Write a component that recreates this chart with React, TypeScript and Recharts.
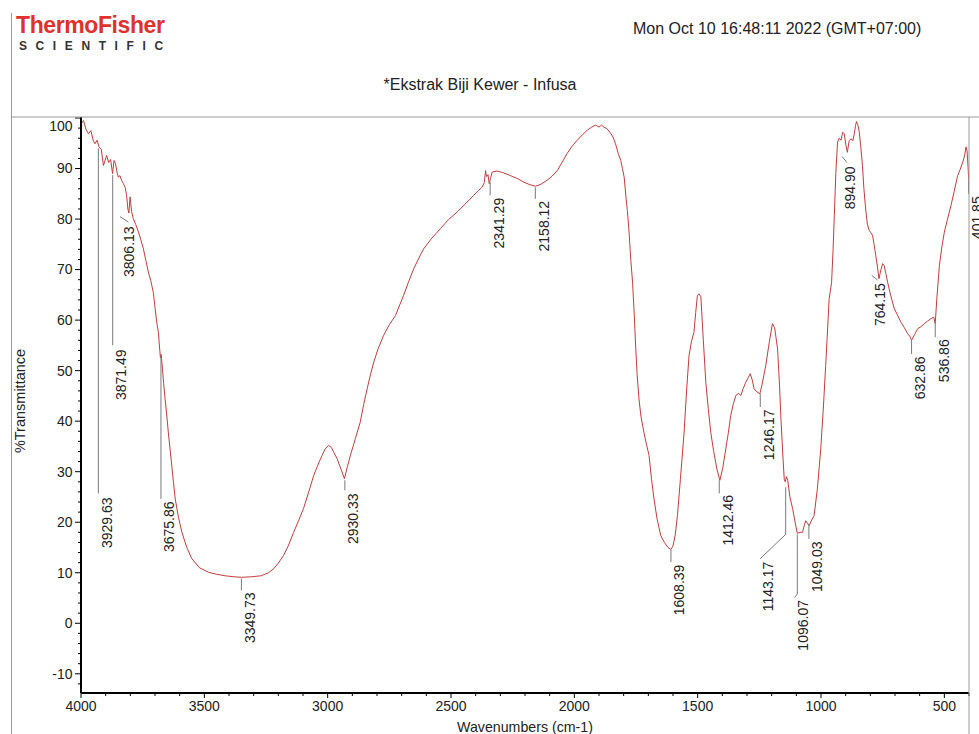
import { LineChart, Line, XAxis, YAxis, ReferenceLine, ReferenceDot } from 'recharts';

// spectrum, high wavenumber first
const WAVENUMBERS = [
  4000, 3990, 3980, 3970, 3960, 3950, 3943, 3935, 3927, 3918, 3909, 3903, 3896, 3888, 3880, 3872, 3866, 3860,
  3855, 3849, 3842, 3835, 3828, 3821, 3815, 3810, 3806, 3801, 3795, 3788, 3778, 3767, 3758, 3747, 3737, 3727,
  3717, 3707, 3700, 3693, 3686, 3683, 3678, 3675, 3670, 3665, 3659, 3652, 3646, 3639, 3632, 3625, 3618, 3605,
  3591, 3571, 3551, 3520, 3483, 3450, 3416, 3380, 3348, 3310, 3270, 3240, 3219, 3200, 3179, 3160, 3138, 3118,
  3098, 3078, 3057, 3040, 3023, 3010, 2996, 2985, 2975, 2962, 2945, 2932, 2920, 2908, 2888, 2868, 2854, 2840,
  2826, 2813, 2795, 2773, 2750, 2725, 2708, 2692, 2672, 2651, 2630, 2611, 2578, 2543, 2510, 2475, 2440, 2408,
  2390, 2374, 2365, 2360, 2356, 2350, 2345, 2340, 2333, 2313, 2290, 2259, 2230, 2205, 2180, 2157, 2135, 2110,
  2090, 2069, 2050, 2029, 2008, 1988, 1967, 1947, 1930, 1914, 1900, 1890, 1880, 1868, 1853, 1843, 1833, 1822,
  1812, 1805, 1798, 1790, 1785, 1778, 1771, 1764, 1757, 1751, 1745, 1738, 1730, 1718, 1708, 1697, 1687, 1677,
  1665, 1650, 1635, 1620, 1609, 1600, 1591, 1582, 1570, 1555, 1545, 1535, 1525, 1515, 1508, 1501, 1494, 1487,
  1477, 1467, 1457, 1447, 1435, 1422, 1410, 1398, 1386, 1376, 1366, 1355, 1345, 1335, 1325, 1315, 1305, 1295,
  1287, 1279, 1271, 1260, 1248, 1240, 1224, 1210, 1197, 1188, 1176, 1168, 1163, 1155, 1149, 1145, 1140, 1135,
  1126, 1115, 1105, 1096, 1085, 1075, 1067, 1062, 1055, 1048, 1040, 1028, 1015, 1001, 990, 981, 973, 967,
  960, 957, 951, 946, 940, 933, 926, 919, 912, 906, 899, 893, 886, 878, 871, 865, 860, 856,
  851, 846, 839, 832, 826, 819, 812, 805, 798, 791, 785, 778, 771, 765, 757, 750, 744, 737,
  730, 717, 703, 690, 676, 662, 649, 640, 633, 620, 608, 595, 581, 568, 554, 543, 537, 530,
  520, 510, 500, 487, 473, 460, 446, 436, 425, 418, 412, 408, 405, 401, 400,
];

const TRANSMITTANCE = [
  98.8, 99.5, 97.8, 96.9, 97.5, 95.5, 94.9, 95.6, 94.3, 93.8, 90.6, 91.5, 92.6, 91.2, 91.8, 89.0, 91.6, 91.0,
  89.5, 88.3, 88.6, 87.6, 87.0, 86.3, 84.6, 82.0, 81.2, 84.4, 81.5, 80.1, 78.9, 77.4, 76.0, 74.1, 71.8, 69.5,
  67.8, 65.5, 62.5, 59.6, 57.5, 55.5, 52.5, 53.2, 50.5, 47.5, 44.4, 41.0, 37.8, 34.5, 31.2, 27.8, 24.6, 21.0,
  18.0, 15.0, 12.8, 11.0, 10.1, 9.7, 9.4, 9.2, 9.1, 9.2, 9.4, 10.0, 10.8, 11.9, 13.4, 15.3, 18.0, 20.3,
  22.7, 25.8, 29.2, 31.3, 33.2, 34.5, 35.2, 34.8, 33.8, 32.6, 30.4, 28.6, 31.0, 33.2, 36.5, 39.8, 43.3, 46.4,
  49.3, 51.7, 54.4, 57.0, 59.1, 60.9, 63.0, 64.9, 67.6, 70.2, 72.3, 74.1, 76.2, 78.1, 79.9, 81.4, 83.1, 84.7,
  85.6, 86.3, 87.2, 89.6, 88.4, 88.8, 87.0, 88.0, 89.3, 89.5, 89.2, 88.6, 88.0, 87.3, 86.8, 86.5, 86.9, 87.7,
  88.5, 89.6, 91.2, 93.0, 94.5, 95.6, 96.7, 97.6, 98.2, 98.6, 98.2, 98.6, 98.2, 97.9, 97.0, 96.2, 94.9, 93.0,
  91.6, 90.0, 88.3, 84.0, 81.7, 77.4, 71.8, 67.5, 61.0, 54.3, 49.0, 44.4, 41.0, 37.8, 35.5, 33.2, 28.5, 24.6,
  20.8, 17.4, 16.0, 15.0, 14.6, 15.3, 17.5, 21.3, 28.5, 37.8, 46.0, 53.0, 55.8, 57.6, 61.5, 64.9, 65.2, 64.6,
  56.0, 47.7, 42.5, 37.8, 34.0, 30.5, 28.3, 30.8, 34.5, 37.6, 41.1, 43.5, 45.1, 45.5, 45.1, 46.5, 47.7, 48.6,
  49.4, 48.2, 46.4, 45.8, 45.4, 47.0, 51.0, 55.5, 59.3, 58.5, 54.3, 47.0, 41.1, 33.5, 28.5, 28.0, 29.0, 28.3,
  25.0, 22.7, 20.0, 17.8, 18.0, 18.0, 19.5, 20.3, 19.8, 19.3, 20.2, 21.3, 26.5, 34.5, 43.0, 51.0, 58.5, 64.2,
  66.5, 67.5, 74.0, 80.7, 89.0, 95.2, 96.0, 95.6, 97.2, 96.9, 94.6, 93.2, 95.5, 95.9, 95.5, 96.9, 98.5, 99.3,
  98.7, 97.6, 94.5, 90.6, 86.0, 82.0, 79.0, 77.8, 77.3, 76.8, 75.0, 72.8, 70.5, 68.2, 70.0, 71.2, 70.8, 69.2,
  67.5, 64.8, 62.3, 61.0, 59.6, 58.5, 57.3, 56.8, 56.0, 57.2, 58.3, 58.7, 59.3, 59.8, 60.3, 60.6, 59.3, 64.5,
  70.8, 74.5, 77.4, 80.0, 82.7, 85.5, 88.6, 89.8, 91.3, 92.5, 94.3, 93.5, 91.3, 87.7, 87.0,
];

const X_TICKS = [
  4000, 3900, 3800, 3700, 3600, 3500, 3400, 3300, 3200, 3100, 3000, 2900, 2800, 2700, 2600, 2500, 2400, 2300,
  2200, 2100, 2000, 1900, 1800, 1700, 1600, 1500, 1400, 1300, 1200, 1100, 1000, 900, 800, 700, 600, 500, 400,
];
const X_LABELS = [4000, 3500, 3000, 2500, 2000, 1500, 1000, 500];

const Y_TICKS = [
  -12, -10, -8, -6, -4, -2, 0, 2, 4, 6, 8, 10, 12, 14, 16, 18, 20, 22, 24, 26, 28, 30, 32, 34, 36, 38, 40,
  42, 44, 46, 48, 50, 52, 54, 56, 58, 60, 62, 64, 66, 68, 70, 72, 74, 76, 78, 80, 82, 84, 86, 88, 90, 92,
  94, 96, 98, 100,
];
const Y_LABELS = [-10, 0, 10, 20, 30, 40, 50, 60, 70, 80, 90, 100];

// peak picks: label, leader polyline [wn, %T], text start [wn, %T]
const PEAK_LABELS = [
  '3929.63', '3871.49', '3806.13', '3675.86', '3349.73', '2930.33', '2341.29', '2158.12', '1608.39', '1412.46',
  '1246.17', '1143.17', '1096.07', '1049.03', '894.90', '764.15', '632.86', '536.86', '401.85',
];
const PEAK_LEADERS = [
  [[3929.63, 94.0], [3929.63, 25.7]],
  [[3871.49, 88.7], [3871.49, 55.0]],
  [[3842, 80.5], [3808, 79.4]],
  [[3675.86, 53.0], [3675.86, 24.6]],
  [[3349.73, 8.85], [3349.73, 6.5]],
  [[2930.33, 28.3], [2930.33, 26.3]],
  [[2341.29, 87.3], [2341.29, 84.7]],
  [[2158.12, 86.3], [2158.12, 84.0]],
  [[1608.39, 14.6], [1608.39, 12.1]],
  [[1412.46, 28.3], [1412.46, 25.7]],
  [[1246.17, 45.4], [1246.17, 42.8]],
  [[1143.17, 26.9], [1143.17, 17.6], [1247, 12.75]],
  [[1096.07, 17.6], [1096.07, 5.8], [1107, 5.1]],
  [[1049.03, 19.7], [1049.03, 16.7]],
  [[915, 92.4], [895, 91.2]],
  [[794.5, 68.85], [771, 67.96]],
  [[632.86, 56.0], [632.86, 53.3]],
  [[536.86, 59.3], [536.86, 56.6]],
  [[401.85, 87.6], [401.85, 85.0]],
];
const PEAK_TEXT_AT = [
  [3929.63, 25.1], [3871.49, 54.4], [3840, 78.75], [3675.86, 24.3], [3349.73, 6.3], [2930.33, 25.9],
  [2341.29, 84.4], [2158.12, 83.8], [1608.39, 11.8], [1412.46, 25.6], [1246.17, 42.5], [1247, 12.4],
  [1107, 4.8], [1049.03, 16.4], [916, 90.6], [795, 67.5], [632.86, 53.0], [536.86, 56.4], [401.85, 84.7],
];

const FONT = '"Liberation Sans", Arial, sans-serif';
const TEXT = '#222';

const spectrum = WAVENUMBERS.map((wn, i) => ({ wn, t: TRANSMITTANCE[i] }));

const XTick = (props: any) => {
  const { x, y, payload } = props;
  const major = X_LABELS.includes(payload.value);
  return (
    <g>
      <line x1={x} x2={x} y1={y} y2={y + (major ? 5 : 3)} stroke="#000" strokeWidth={1} />
      {major && (
        <text x={x} y={y + 13} dy="0.35em" textAnchor="middle" fontSize={14} fontFamily={FONT} fill={TEXT}>
          {payload.value}
        </text>
      )}
    </g>
  );
};

const YTick = (props: any) => {
  const { x, y, payload } = props;
  const major = Y_LABELS.includes(payload.value);
  return (
    <g>
      <line x1={x - (major ? 6 : 3)} x2={x} y1={y} y2={y} stroke="#000" strokeWidth={1} />
      {major && (
        <text
          x={x - 8.5}
          y={payload.value === 100 ? y + 8 : y}
          dy="0.35em"
          textAnchor="end"
          fontSize={14}
          fontFamily={FONT}
          fill={TEXT}
        >
          {payload.value}
        </text>
      )}
    </g>
  );
};

export default function App() {
  return (
    <div style={{ position: 'absolute', left: 0, top: 0, width: 979, height: 734, background: '#fff' }}>
      <LineChart width={979} height={734} data={spectrum} margin={{ top: 117, right: 10, bottom: 0, left: 0 }}>
        <XAxis
          dataKey="wn"
          type="number"
          domain={[400, 4000]}
          reversed
          allowDataOverflow
          ticks={X_TICKS}
          interval={0}
          height={41}
          tickSize={0}
          tickMargin={0}
          tickLine={false}
          axisLine={{ stroke: '#000', strokeWidth: 2 }}
          tick={XTick}
        />
        <YAxis
          type="number"
          domain={[-13.8, 100.2]}
          allowDataOverflow
          ticks={Y_TICKS}
          interval={0}
          width={81}
          tickSize={0}
          tickMargin={0}
          tickLine={false}
          axisLine={{ stroke: '#000', strokeWidth: 2 }}
          tick={YTick}
        />
        <Line
          dataKey="t"
          type="linear"
          stroke="#c43c3c"
          strokeWidth={1}
          dot={false}
          activeDot={false}
          isAnimationActive={false}
        />
        {PEAK_LEADERS.flatMap((pts, i) =>
          pts.slice(1).map((p, j) => (
            <ReferenceLine
              key={`lead-${i}-${j}`}
              segment={[{ x: pts[j][0], y: pts[j][1] }, { x: p[0], y: p[1] }]}
              stroke="#7a7a7a"
              strokeWidth={1}
              ifOverflow="visible"
            />
          ))
        )}
        {PEAK_LABELS.map((label, i) => (
          <ReferenceDot
            key={`peak-${label}`}
            x={PEAK_TEXT_AT[i][0]}
            y={PEAK_TEXT_AT[i][1]}
            r={0}
            ifOverflow="visible"
            shape={(p: any) => (
              <text
                transform={`translate(${p.cx + 8.5},${p.cy + 1}) rotate(-90)`}
                textAnchor="end"
                dy="0.35em"
                fontSize={14}
                fontFamily={FONT}
                fill={TEXT}
              >
                {label}
              </text>
            )}
          />
        ))}
      </LineChart>
      <svg
        width={979}
        height={734}
        style={{ position: 'absolute', left: 0, top: 0, pointerEvents: 'none' }}
      >
        <line x1={11.5} x2={11.5} y1={13} y2={734} stroke="#9a9a9a" />
        <line x1={11} x2={979} y1={117} y2={117} stroke="#9a9a9a" />
        <line x1={969} x2={969} y1={117} y2={734} stroke="#9a9a9a" />
        <text x={16} y={33} fontSize={23} fontWeight={700} letterSpacing={-0.4} fontFamily={FONT} fill="#e0322b">
          ThermoFisher
        </text>
        <text x={19} y={50} fontSize={12} fontWeight={700} letterSpacing={8.6} fontFamily={FONT} fill="#333">
          SCIENTIFIC
        </text>
        <text x={633} y={28} dy="0.35em" fontSize={16} fontFamily={FONT} fill={TEXT}>
          Mon Oct 10 16:48:11 2022 (GMT+07:00)
        </text>
        <text x={480} y={84} dy="0.35em" textAnchor="middle" fontSize={16} fontFamily={FONT} fill={TEXT}>
          *Ekstrak Biji Kewer - Infusa
        </text>
        <text
          transform="translate(20,401) rotate(-90)"
          textAnchor="middle"
          dy="0.35em"
          fontSize={14.5}
          fontFamily={FONT}
          fill={TEXT}
        >
          %Transmittance
        </text>
        <text x={525} y={727} dy="0.35em" textAnchor="middle" fontSize={14.2} fontFamily={FONT} fill={TEXT}>
          Wavenumbers (cm-1)
        </text>
      </svg>
    </div>
  );
}
